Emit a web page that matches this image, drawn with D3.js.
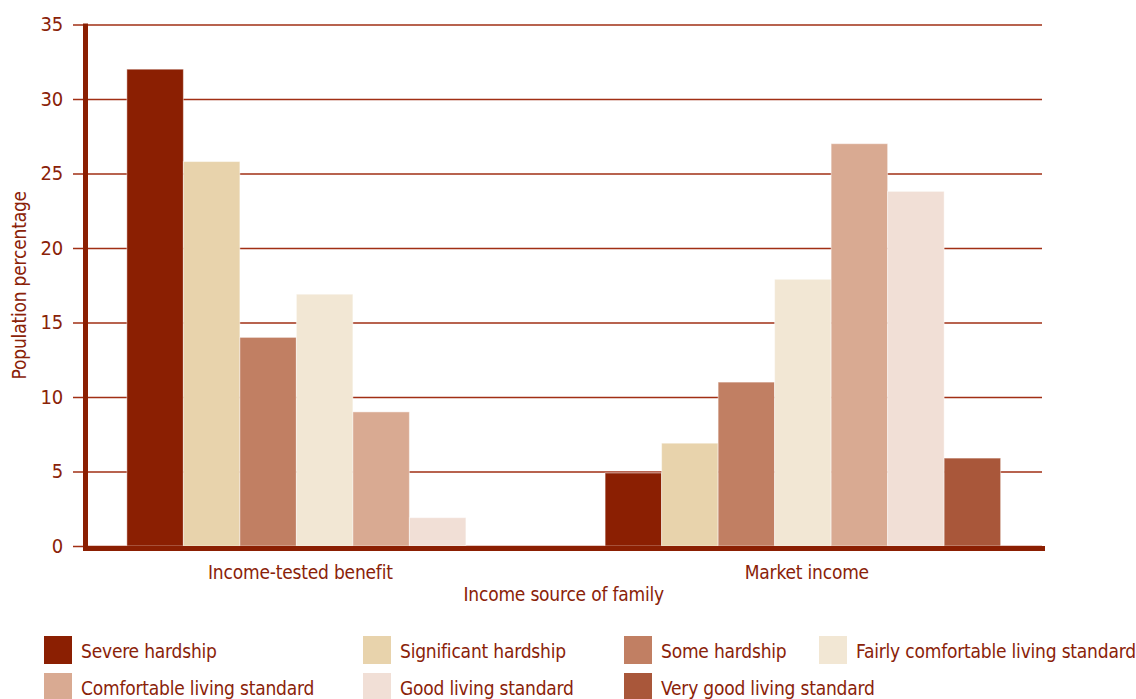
<!DOCTYPE html>
<meta charset="utf-8">
<style>
body { margin: 0; background: #fff; }
svg { display: block; }
text {
  font-family: "Liberation Sans Narrow", "DejaVu Sans Condensed", "Roboto", sans-serif;
  font-stretch: condensed;
  fill: #8a2208;
  letter-spacing: -0.2px;
}
.grid line { stroke: #a12f14; stroke-width: 1.6px; }
.grid .domain { display: none; }
.grid text { font-size: 20px; }
.bars rect { stroke: #fff; stroke-opacity: 0.45; stroke-width: 1px; }
</style>
<svg width="1136" height="699"></svg>
<script src="https://d3js.org/d3.v7.min.js"></script>
<script>
// data
var groups = ["Income-tested benefit", "Market income"];
var levels = ["Severe hardship", "Significant hardship", "Some hardship",
              "Fairly comfortable living standard", "Comfortable living standard",
              "Good living standard", "Very good living standard"];
var incomeTested = [32, 25.8, 14, 16.9, 9, 1.9, null];
var marketIncome = [4.9, 6.9, 11, 17.9, 27, 23.8, 5.9];
var yTicks = [0, 5, 10, 15, 20, 25, 30, 35];
var colours = ["#8b1f02", "#e8d3ac", "#c17f63", "#f2e7d4", "#d9aa92", "#f1dfd6", "#a9573a"];

var svg = d3.select("svg");

var plotLeft = 85.5, plotRight = 1042, plotTop = 24.5, plotBottom = 546;

var x0 = d3.scaleBand()
    .domain(groups)
    .range([plotLeft, plotRight])
    .paddingInner(0.173)
    .paddingOuter(0.0865);

var x1 = d3.scaleBand()
    .domain(levels)
    .range([0, x0.bandwidth()]);

var y = d3.scaleLinear()
    .domain([0, 35])
    .range([plotBottom, plotTop]);

var colour = d3.scaleOrdinal().domain(levels).range(colours);

// gridlines + tick labels
svg.append("g")
    .attr("class", "grid")
    .attr("transform", "translate(73,0)")
    .call(d3.axisLeft(y)
        .tickValues(yTicks)
        .tickSize(-(plotRight - 73))
        .tickPadding(10));

var rows = groups.map(function(g, i) {
    var vals = i === 0 ? incomeTested : marketIncome;
    return { group: g, values: levels.map(function(l, j) { return { level: l, value: vals[j] }; }) };
});

var bars = svg.append("g").attr("class", "bars")
    .selectAll("g")
    .data(rows)
    .enter().append("g")
    .attr("transform", function(d) { return "translate(" + x0(d.group) + ",0)"; });

bars.selectAll("rect")
    .data(function(d) { return d.values.filter(function(v) { return v.value != null; }); })
    .enter().append("rect")
    .attr("x", function(d) { return x1(d.level); })
    .attr("width", x1.bandwidth())
    .attr("y", function(d) { return y(d.value); })
    .attr("height", function(d) { return y(0) - y(d.value); })
    .attr("fill", function(d) { return colour(d.level); });

// heavy axis lines
svg.append("line")
    .attr("x1", plotLeft).attr("x2", plotLeft)
    .attr("y1", plotTop - 1).attr("y2", plotBottom + 5)
    .attr("stroke", "#8b1f02").attr("stroke-width", 5);
svg.append("line")
    .attr("x1", plotLeft - 2.5).attr("x2", plotRight + 3)
    .attr("y1", plotBottom + 2.5).attr("y2", plotBottom + 2.5)
    .attr("stroke", "#8b1f02").attr("stroke-width", 5);

// category labels, centred on the bars that are drawn
svg.selectAll(".cat")
    .data(rows)
    .enter().append("text")
    .attr("class", "cat")
    .attr("text-anchor", "middle")
    .attr("font-size", 19)
    .attr("y", 579)
    .attr("x", function(d) {
        var shown = d.values.filter(function(v) { return v.value != null; });
        var a = x1(shown[0].level), b = x1(shown[shown.length - 1].level) + x1.bandwidth();
        return x0(d.group) + (a + b) / 2 + 4;
    })
    .text(function(d) { return d.group; });

svg.append("text")
    .attr("text-anchor", "middle")
    .attr("font-size", 19)
    .attr("x", (plotLeft + plotRight) / 2)
    .attr("y", 601)
    .text("Income source of family");

svg.append("text")
    .attr("text-anchor", "middle")
    .attr("font-size", 19)
    .attr("transform", "translate(26," + (plotTop + plotBottom) / 2 + ") rotate(-90)")
    .text("Population percentage");

// legend
var legendCols = [44, 363, 624, 819];
var legend = svg.append("g").selectAll("g")
    .data(levels)
    .enter().append("g")
    .attr("transform", function(d, i) {
        return "translate(" + legendCols[i % 4] + "," + (636 + Math.floor(i / 4) * 37) + ")";
    });

legend.append("rect")
    .attr("width", 28).attr("height", 28)
    .attr("fill", function(d) { return colour(d); });

legend.append("text")
    .attr("x", 37)
    .attr("y", 22)
    .attr("font-size", 19)
    .text(function(d) { return d; });
</script>
